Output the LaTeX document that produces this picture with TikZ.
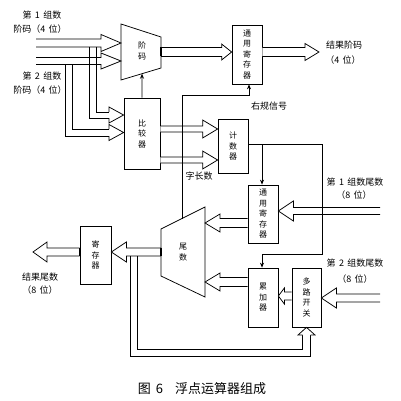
\documentclass[tikz,border=0pt]{standalone}
\usepackage{fontspec}
\setmainfont{Noto Sans CJK SC}
\usetikzlibrary{calc,arrows.meta}
% hollow horizontal block arrow: #1 start, #2 tip, #3 shaft half width, #4 head half width, #5 head length
\newcommand\harrow[5]{%
  \draw[block] let \p1=(#1), \p2=(#2), \n1={ifthenelse(\x2>\x1,1,-1)} in
    (\x1,{\y1+#3}) -- ({\x2-\n1*#5},{\y1+#3}) -- ({\x2-\n1*#5},{\y1+#4}) -- (\x2,\y1)
    -- ({\x2-\n1*#5},{\y1-#4}) -- ({\x2-\n1*#5},{\y1-#3}) -- (\x1,{\y1-#3});}
\newcommand\gapsp{\hspace{3.5pt}}
\begin{document}
\begin{tikzpicture}[x=1pt,y=-1pt,line width=0.75pt,
  box/.style={draw,fill=white,inner sep=0pt,align=center,font=\fontsize{8}{10.5}\selectfont},
  vtext/.style={inner sep=0pt,align=center,font=\fontsize{8}{10.5}\selectfont},
  lbl/.style={inner sep=0pt,font=\fontsize{9}{10}\selectfont},
  block/.style={draw,fill=white,line join=miter},
  ctl/.style={-{Stealth[length=5pt,width=4pt]}},
  port/.style={line width=2pt}]
\useasboundingbox (0,0) rectangle (400,401);

% ---------- boxes ----------
\node[box,minimum width=30pt,minimum height=59pt] (reg1) at (247,54.5) {通\\用\\寄\\存\\器};
\node[box,minimum width=36pt,minimum height=71pt] (cmp) at (142,133.5) {比\\较\\器};
\node[box,minimum width=30pt,minimum height=54pt] (cnt) at (233,146) {计\\数\\器};
\node[box,minimum width=30pt,minimum height=58pt] (reg2) at (263,214) {通\\用\\寄\\存\\器};
\node[box,minimum width=30pt,minimum height=59pt] (acc) at (263,297.5) {累\\加\\器};
\node[box,minimum width=29pt,minimum height=59pt] (mux) at (306.5,297.5) {多\\路\\开\\关};
\node[box,minimum width=31pt,minimum height=58pt] (reg3) at (95.5,255) {寄\\存\\器};

% 阶码 selector
\coordinate (jNW) at (121,24); \coordinate (jNE) at (161,37);
\coordinate (jSE) at (161,68); \coordinate (jSW) at (121,80);
\draw[fill=white] (jNW) -- (jNE) -- (jSE) -- (jSW) -- cycle;
\node[vtext] (jie) at (142,51) {阶\\码};

% 尾数 selector
\coordinate (wNW) at (161,229); \coordinate (wNE) at (205,207);
\coordinate (wSE) at (205,297); \coordinate (wSW) at (161,276);
\draw[fill=white] (wNW) -- (wNE) -- (wSE) -- (wSW) -- cycle;
\node[vtext] (wei) at (183,252) {尾\\数};

% ---------- block arrows ----------
\coordinate (in1) at (36,43);
\coordinate (in2) at (36,61);
\harrow{in1}{jNW |- in1}{4pt}{8.5pt}{20pt}
\harrow{in2}{jNW |- in2}{3.5pt}{8pt}{20pt}

% branches to comparator
\draw (96,47) -- (96,112) -- (109,112);
\draw (89,47) -- (89,118) -- (109,118);
\draw[block] (109,112) -- (109,107) -- (cmp.west |- 0,115) -- (109,123) -- (109,118);
\draw (72,64.5) -- (72,129) -- (109,129);
\draw (65,64.5) -- (65,136) -- (109,136);
\draw[block] (109,129) -- (109,124.5) -- (cmp.west |- 0,132.5) -- (109,140.5) -- (109,136);

\harrow{jNE |- 0,52}{reg1.west |- 0,52}{4.5pt}{8pt}{10pt}
\coordinate (o1) at (319,52);
\harrow{reg1.east |- o1}{o1}{4.5pt}{8.5pt}{14pt}

\harrow{cmp.east |- 0,129}{cnt.west |- 0,129}{3pt}{9pt}{15pt}
\harrow{cmp.east |- 0,160}{cnt.west |- 0,160}{3pt}{9pt}{15pt}

\coordinate (in3) at (380,211);
\harrow{in3}{reg2.east |- in3}{3.5pt}{10pt}{15pt}
\harrow{reg2.west |- 0,223}{wNE |- 0,223}{4.5pt}{9pt}{15pt}
\harrow{acc.west |- 0,282}{wNE |- 0,282}{4.5pt}{9pt}{15pt}
\harrow{mux.west |- 0,296}{acc.east |- 0,296}{4pt}{8pt}{6pt}
\coordinate (in4) at (380,298);
\harrow{in4}{mux.east |- in4}{4pt}{10pt}{15pt}
\harrow{wSW |- 0,252}{reg3.east |- 0,252}{4pt}{10pt}{15pt}
\coordinate (o2) at (33,252);
\harrow{reg3.west |- o2}{o2}{4pt}{10pt}{14pt}

% feedback to multiplexer
\draw (130,256) -- (130,356) -- (310.5,356) -- (310.5,335);
\draw (137,256) -- (137,349) -- (302.5,349) -- (302.5,335);
\draw[block] (302.5,335) -- (298,335) -- (mux.south) -- (315,335) -- (310.5,335);

% ports
\draw[port] (jNE |- 0,47.5) -- (jNE |- 0,56.5);
\draw[port] (wSW |- 0,248) -- (wSW |- 0,256);
\draw[port] (reg3.west |- 0,248) -- (reg3.west |- 0,256);

% ---------- control lines ----------
\draw[ctl] (cmp.north) -- ($(jSW)!0.525!(jSE)$);
\coordinate (rg) at ($(wNW)!0.477!(wNE)$);
\draw[ctl] (rg) |- (249,95) -- (reg1.south -| 249,0);
\coordinate (cj) at (262,144);
\draw[ctl] (cnt.east |- cj) -| (322,254) -| (acc.north -| cj);
\draw[ctl] (cj) -- (reg2.north -| cj);

% ---------- labels ----------
\node[lbl] (l1a) at (42,15) {第\gapsp 1\gapsp 组数};
\node[lbl] (l1b) at (40,29) {阶码（4\gapsp 位）};
\node[lbl] (l2a) at (42,76) {第\gapsp 2\gapsp 组数};
\node[lbl] (l2b) at (40,90) {阶码（4\gapsp 位）};
\node[lbl] (r1a) at (344,45) {结果阶码};
\node[lbl] (r1b) at (343,60) {（4\gapsp 位）};
\node[lbl] (rgl) at (269,106) {右规信号};
\node[lbl] (zc) at (199,176) {字长数};
\node[lbl] (m1a) at (355,182) {第\gapsp 1\gapsp 组数尾数};
\node[lbl] (m1b) at (354,195) {（8\gapsp 位）};
\node[lbl] (m2a) at (355,263) {第\gapsp 2\gapsp 组数尾数};
\node[lbl] (m2b) at (355,279) {（8\gapsp 位）};
\node[lbl] (rta) at (40,277) {结果尾数};
\node[lbl] (rtb) at (40,290) {（8\gapsp 位）};
\node[inner sep=0pt,font=\fontsize{13}{15}\selectfont] (cap) at (202,389) {图\hspace{5pt}6\hspace{12pt}浮点运算器组成};
\end{tikzpicture}
\end{document}
